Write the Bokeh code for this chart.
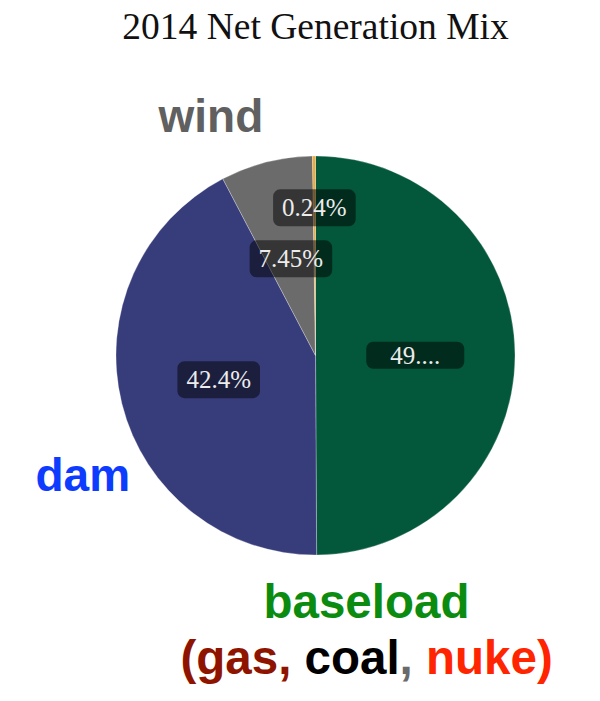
import math
from bokeh.plotting import figure
from bokeh.models import Range1d, ColumnDataSource
from bokeh.core.properties import value
from bokeh.embed import file_html
from bokeh.resources import INLINE

# ---- data ----
sources = ["baseload", "dam", "wind", "solar"]
shares = [49.91, 42.4, 7.45, 0.24]
slice_labels = ["49....", "42.4%", "7.45%", "0.24%"]
colors = ["#03573a", "#373c7a", "#6b6b6b", "#eda93a"]
label_radius = [0.5, 0.5, 0.5, 0.74]
label_padx = [24, 9, 9, 9]

W, H = 584, 685
def Y(py):
    return H - py

p = figure(width=W, height=H, x_range=Range1d(0, W), y_range=Range1d(0, H),
           x_axis_type=None, y_axis_type=None, toolbar_location=None,
           output_backend="svg", min_border=0)
p.outline_line_color = None
p.xgrid.visible = False
p.ygrid.visible = False
p.background_fill_color = "white"

cx, cy, R = 315, Y(355), 199.5
total = sum(shares)
starts, ends, lx, ly = [], [], [], []
cum = 0.0
for s, lr in zip(shares, label_radius):
    a0 = cum / total
    a1 = (cum + s) / total
    starts.append(math.pi / 2 - a1 * 2 * math.pi)
    ends.append(math.pi / 2 - a0 * 2 * math.pi)
    mid = (a0 + a1) / 2
    ang = math.pi / 2 - mid * 2 * math.pi
    lx.append(cx + lr * R * math.cos(ang))
    ly.append(cy + lr * R * math.sin(ang))
    cum += s

src = ColumnDataSource(dict(start=starts, end=ends, color=colors, name=sources))
p.wedge(x=cx, y=cy, radius=R, start_angle="start", end_angle="end",
        fill_color="color", line_color="white", line_alpha=0.35, line_width=0.8,
        source=src)

for i in range(len(slice_labels)):
    p.text(x=[lx[i]], y=[ly[i]], text=[slice_labels[i]], text_font=value("Liberation Serif"),
           text_font_size="25px", text_color="#ececec", text_align="center",
           text_baseline="middle", background_fill_color="black",
           background_fill_alpha=0.5, border_radius=7,
           padding=dict(left=label_padx[i], right=label_padx[i], top=5, bottom=5))

# title (y given as vertical middle of the text box)
p.text(x=[315], y=[Y(25.5)], text=["2014 Net Generation Mix"],
       text_font=value("Liberation Serif"), text_font_size="37.5px",
       text_color="#111111", text_align="center", text_baseline="middle")

# annotations
bold = dict(text_font=value("Liberation Sans"), text_font_style="bold",
            text_font_size="46px", text_baseline="middle", text_align="left")
bold47 = dict(bold, text_font_size="47.5px")
p.text(x=[158], y=[Y(115)], text=["wind"], text_color="#606060", **bold)
p.text(x=[35], y=[Y(474)], text=["dam"], text_color="#0d3cff", **bold)
p.text(x=[263], y=[Y(600.5)], text=["baseload"], text_color="#0b8c10", **bold47)

widths = {"(": 333, "g": 611, "a": 556, "s": 556, ",": 278, " ": 278, "c": 556,
          "o": 611, "l": 278, "n": 611, "u": 611, "k": 556, "e": 556, ")": 333}
segments = [("(gas,", "#8f1400", 1), ("coal", "#000000", 0), (",", "#6a6a6a", 1),
            ("nuke)", "#ff2500", 0)]
x0 = 180
for txt, col, gap in segments:
    p.text(x=[x0], y=[Y(656.5)], text=[txt], text_color=col, **bold47)
    x0 += (sum(widths[c] for c in txt) + gap * widths[" "]) / 1000 * 47.5

open("out.html", "w").write(file_html(p, INLINE))
